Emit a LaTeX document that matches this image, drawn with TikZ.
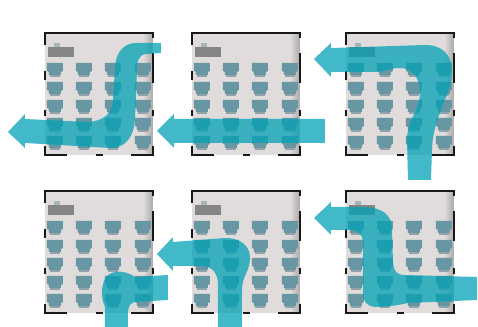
\documentclass[tikz,border=0pt]{standalone}
\usepackage{xcolor}
\definecolor{roomfloor}{HTML}{E0DCDB}
\definecolor{roomedge}{HTML}{ABA9A9}
\definecolor{deskcol}{HTML}{6996A3}
\definecolor{chaircol}{HTML}{8FA3A9}
\definecolor{boardcol}{HTML}{858585}
\definecolor{flowcol}{HTML}{03A2B6}
\tikzset{
wallline/.style={draw=black!90, line width=1.5pt},
flowarrow/.style={fill=flowcol, fill opacity=0.75},
}
\newcommand{\classroom}[2]{
\begin{scope}[shift={(#1,#2)}]
\fill[roomfloor] (0,0) rectangle (108,122);
\shade[left color=roomfloor, right color=roomedge] (98,0) rectangle (108,122);
\fill[chaircol!70!roomfloor] (9,10) rectangle (15,15);
\fill[boardcol] (3,14) rectangle (29,24);
\foreach \xs in {10,39,68,98} {
\foreach \ys in {36,55,73,91,109} {
\fill[chaircol] (\xs-5,\ys+2) rectangle (\xs+5,\ys+8);
\fill[deskcol] (\xs-8,\ys-6) -- (\xs+8,\ys-6) -- (\xs+8,\ys+2) -- (\xs+6,\ys+3) -- (\xs+6,\ys+6) -- (\xs-6,\ys+6) -- (\xs-6,\ys+3) -- (\xs-8,\ys+2) -- cycle;
}
}
\draw[wallline] (0,12) -- (0,0) -- (108,0) -- (108,5);
\draw[wallline] (0,38) -- (0,47);
\draw[wallline] (0,77) -- (0,83);
\draw[wallline] (0,113) -- (0,122) -- (22,122);
\draw[wallline] (108,20) -- (108,50);
\draw[wallline] (108,77) -- (108,83);
\draw[wallline] (108,113) -- (108,122) -- (86,122);
\draw[wallline] (51,122) -- (58,122);
\end{scope}
}
\begin{document}
\begin{tikzpicture}[x=0.02cm, y=-0.02cm]
\useasboundingbox (0,0) rectangle (478,327);
\fill[white] (0,0) rectangle (478,327);
\classroom{45}{33}
\classroom{192}{33}
\classroom{346}{33}
\classroom{45}{191}
\classroom{192}{191}
\classroom{346}{191}
% top row
\fill[flowarrow] (8,132) -- (25,114) -- (25,119) -- (88,122)
  .. controls (104,121) and (113,113) .. (113,100)
  -- (115,67) .. controls (116,52) and (124,43) .. (136,43) -- (161,43) -- (161,53) -- (146,54)
  .. controls (138,55) and (137,62) .. (137,72)
  -- (135,118) .. controls (134,138) and (125,148) .. (110,148)
  -- (25,143) -- (25,148) -- cycle;
\fill[flowarrow] (157,131) -- (174,114) -- (174,119) -- (325,119) -- (325,143) -- (174,143) -- (174,148) -- cycle;
\fill[flowarrow] (314,59) -- (331,43) -- (331,48) -- (425,45)
  .. controls (443,45) and (452,55) .. (452,72)
  .. controls (452,95) and (433,115) .. (432,150) -- (431,180) -- (408,180) -- (407,140)
  .. controls (407,120) and (420,110) .. (420,92)
  .. controls (420,78) and (412,68) .. (400,68)
  .. controls (390,68) and (385,72) .. (375,72) -- (331,72) -- (331,77) -- cycle;
% bottom row
\fill[flowarrow] (105,327) -- (105,307) .. controls (100,295) and (102,287) .. (104,281)
  .. controls (107,271) and (122,268) .. (135,277) -- (168,275) -- (168,300) -- (135,302)
  .. controls (130,303) and (128,307) .. (128,313) -- (128,327) -- cycle;
\fill[flowarrow] (157,254) -- (173,237) -- (173,242) -- (225,238)
  .. controls (242,238) and (251,247) .. (250,260)
  .. controls (249,272) and (242,277) .. (242,290) -- (242,327) -- (218,327) -- (218,285)
  .. controls (218,274) and (213,267) .. (203,266) -- (173,266) -- (173,271) -- cycle;
\fill[flowarrow] (314,218) -- (331,202) -- (331,207) -- (365,207)
  .. controls (382,208) and (392,214) .. (392,230)
  -- (393,262) .. controls (394,272) and (397,275) .. (405,275)
  -- (477,277) -- (477,300) -- (408,303)
  .. controls (395,306) and (385,307) .. (375,307)
  .. controls (367,306) and (363,302) .. (363,293)
  -- (363,245) .. controls (363,236) and (360,230) .. (350,230)
  -- (331,230) -- (331,235) -- cycle;
\end{tikzpicture}
\end{document}
